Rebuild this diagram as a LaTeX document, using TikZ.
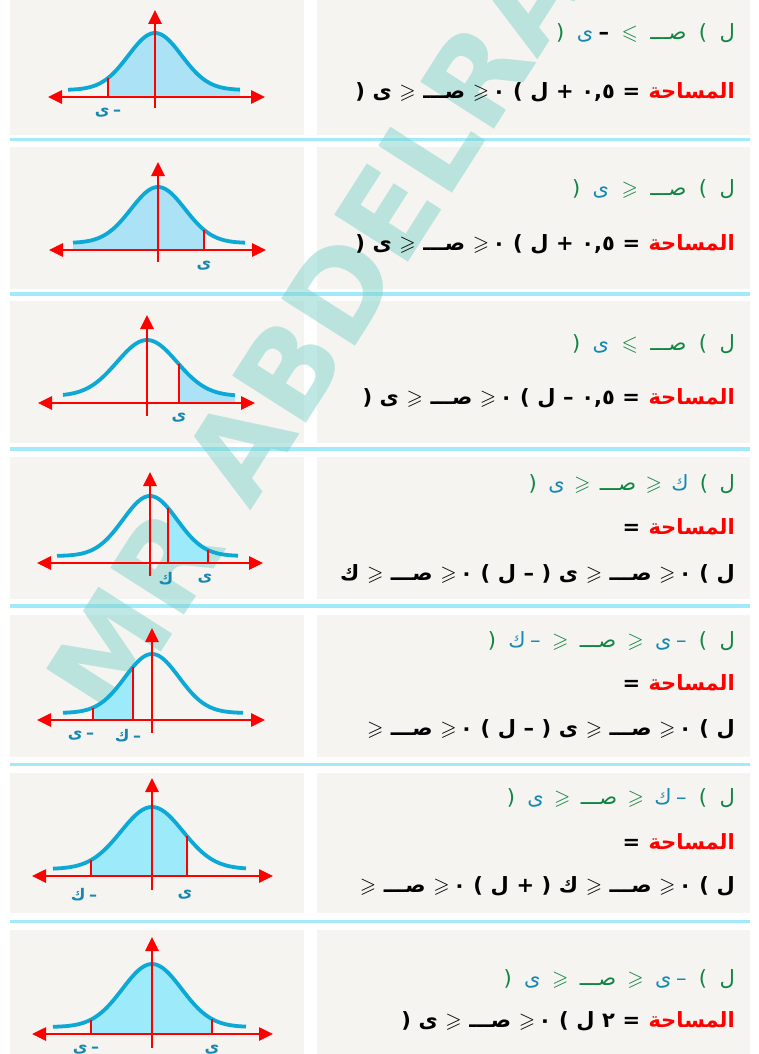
\documentclass[tikz,border=0pt]{standalone}
\usepackage{fontspec}
\usepackage{amssymb}
\setmainfont{DejaVu Sans}
\newfontfamily\arab[Script=Arabic]{DejaVu Sans}
\TeXXeTstate=1
\usetikzlibrary{arrows.meta}
\definecolor{panelc}{RGB}{245,244,240}
\definecolor{sepc}{RGB}{162,233,250}
\definecolor{grn}{RGB}{16,132,66}
\definecolor{tlc}{RGB}{22,136,178}
\definecolor{redt}{RGB}{255,0,0}
\definecolor{curvec}{RGB}{12,168,214}
\definecolor{shA}{RGB}{172,226,245}
\definecolor{shB}{RGB}{156,234,250}
\definecolor{wmc}{RGB}{120,208,200}
\newcommand\LEb{\hbox{$\leqslant$}}
\newcommand\GEb{\hbox{$\geqslant$}}
\newcommand\Zs{صـــ}
\newcommand\widesp{\spaceskip=7.6pt\relax}
\newcommand\tk[5]{\node[tok,text=#1] (#3) at ([xshift=-#2]#4.base west) {#5};}
\newcommand\bellf[1]{(7+\bA*exp(-((#1)*(#1))/(2*\bS*\bS)))}
\newcommand\bellshade[3]{\fill[#1] plot[domain=#2:#3,samples=40] ({\x},{\bellf{\x}}) -- (#3,0) -- (#2,0) -- cycle;}
\newcommand\bellcurve[2]{\draw[bellline] plot[domain=#1:#2,samples=90] ({\x},{\bellf{\x}});}
\newcommand\bellaxes[4]{\draw[redax,tipsboth] (#1,0) -- (#2,0); \draw[redax,tipup] (0,#3) -- (0,#4);}
\newcommand\bellcut[1]{\draw[redax] (#1,0) -- (#1,{\bellf{#1}});}
\def\bA{57}\def\bS{27}
\begin{document}
\begin{tikzpicture}[x=1pt,y=-1pt,
  redax/.style={draw=red,line width=2.6pt},
  tipsboth/.style={{Triangle[length=14pt,width=13pt]}-{Triangle[length=14pt,width=13pt]}},
  tipup/.style={-{Triangle[length=14pt,width=13pt]}},
  bellline/.style={draw=curvec,line width=3.8pt},
  lbl/.style={text=tlc,inner sep=0,font=\arab\bfseries\fontsize{16}{18}\selectfont},
  tok/.style={anchor=base east,inner sep=0,font=\arab\fontsize{21}{24}\selectfont},
  tokb/.style={anchor=base east,inner sep=0,font=\arab\bfseries\fontsize{21}{24}\selectfont\widesp},
  panel/.style={fill=panelc},
  sepline/.style={draw=sepc,line width=3.5pt}]
\useasboundingbox (0,0) rectangle (758,1054);
\fill[white] (0,0) rectangle (758,1054);
% panels
\foreach \ya/\yb in {0/135,147/289,301/443,457/599,615/757,773/913,930/1054}{
  \fill[panel] (10,\ya) rectangle (304,\yb);
  \fill[panel] (317,\ya) rectangle (750,\yb);
}
\foreach \ys in {139.5,294,449,606,764.5,921.5}{
  \draw[sepline] (10,\ys) -- (750,\ys);
}
% watermark
\begin{scope}
\clip (0,0) rectangle (758,1054);
\node[rotate=57.5,text=wmc,text opacity=0.47,inner sep=0,font=\bfseries\fontsize{120}{120}\selectfont] (wm) at (314,330) {MR ABDELRA};
\end{scope}
% graph 1
\begin{scope}[shift={(155,97)},yscale=-1]
\def\bA{57}\def\bS{26.6}
\bellshade{shA}{-47}{85}
\bellcurve{-87}{85}
\bellaxes{-107}{110}{-11}{87}
\bellcut{-47}
\node[lbl] (g1a) at (-47,-16) {\beginR – \hspace{-2pt}ى\endR};
\end{scope}
% graph 2
\begin{scope}[shift={(158,250)},yscale=-1]
\def\bA{56}\def\bS{27}
\bellshade{shA}{-85}{46}
\bellcurve{-85}{87}
\bellaxes{-109}{108}{-12}{88}
\bellcut{46}
\node[lbl] (g2a) at (46,-16) {ى};
\end{scope}
% graph 3
\begin{scope}[shift={(147,403)},yscale=-1]
\def\bA{56}\def\bS{30}
\bellshade{shA}{32}{88}
\bellcurve{-84}{88}
\bellaxes{-109}{108}{-13}{88}
\bellcut{32}
\node[lbl] (g3a) at (32,-15) {ى};
\end{scope}
% graph 4
\begin{scope}[shift={(150,563)},yscale=-1]
\def\bA{60}\def\bS{27}
\bellshade{shB}{18}{58}
\bellcurve{-93}{88}
\bellaxes{-113}{113}{-13}{91}
\bellcut{18}
\bellcut{58}
\node[lbl] (g4a) at (16,-16) {ك};
\node[lbl] (g4b) at (55,-16) {ى};
\end{scope}
% graph 5
\begin{scope}[shift={(152,720)},yscale=-1]
\def\bA{59}\def\bS{27}
\bellshade{shB}{-59}{-19}
\bellcurve{-89}{91}
\bellaxes{-115}{113}{-13}{92}
\bellcut{-59}
\bellcut{-19}
\node[lbl] (g5a) at (-71,-16) {\beginR – \hspace{-2pt}ى\endR};
\node[lbl] (g5b) at (-24,-16) {\beginR – \hspace{-2pt}ك\endR};
\end{scope}
% graph 6
\begin{scope}[shift={(152,876)},yscale=-1]
\def\bA{62}\def\bS{31}
\bellshade{shB}{-61}{35}
\bellcurve{-99}{94}
\bellaxes{-120}{121}{-14}{98}
\bellcut{-61}
\bellcut{35}
\node[lbl] (g6a) at (-68,-19) {\beginR – \hspace{-2pt}ك\endR};
\node[lbl] (g6b) at (33,-19) {ى};
\end{scope}
% graph 7
\begin{scope}[shift={(152,1034)},yscale=-1]
\def\bA{63}\def\bS{29.5}
\bellshade{shB}{-61}{60}
\bellcurve{-99}{94}
\bellaxes{-120}{121}{-14}{97}
\bellcut{-61}
\bellcut{60}
\node[lbl] (g7a) at (-66,-16) {\beginR – \hspace{-2pt}ى\endR};
\node[lbl] (g7b) at (60,-16) {ى};
\end{scope}
% ---------- row 1
\node[tok,text=grn] (a1) at (735,40) {ل};
\tk{grn}{12pt}{a2}{a1}{)}
\tk{grn}{12pt}{a3}{a2}{\Zs}
\tk{grn}{12pt}{a4}{a3}{$\leqslant$}
\tk{black}{12pt}{a5}{a4}{\bfseries –}
\tk{tlc}{5pt}{a6}{a5}{ى}
\tk{grn}{12pt}{a7}{a6}{(}
\node[tokb,text=redt] (b1) at (735,99) {المساحة};
\node[tokb] (b2) at ([xshift=-8pt]b1.base west) {\beginR = ٠,٥ + ل ) ٠\,\GEb{} {\Zs} \GEb{} ى (\endR};
% ---------- row 2
\node[tok,text=grn] (c1) at (735,195) {ل};
\tk{grn}{12pt}{c2}{c1}{)}
\tk{grn}{12pt}{c3}{c2}{\Zs}
\tk{grn}{12pt}{c4}{c3}{$\geqslant$}
\tk{tlc}{12pt}{c5}{c4}{ى}
\tk{grn}{12pt}{c6}{c5}{(}
\node[tokb,text=redt] (d1) at (735,250) {المساحة};
\node[tokb] (d2) at ([xshift=-8pt]d1.base west) {\beginR = ٠,٥ + ل ) ٠\,\GEb{} {\Zs} \GEb{} ى (\endR};
% ---------- row 3
\node[tok,text=grn] (e1) at (735,350) {ل};
\tk{grn}{12pt}{e2}{e1}{)}
\tk{grn}{12pt}{e3}{e2}{\Zs}
\tk{grn}{12pt}{e4}{e3}{$\leqslant$}
\tk{tlc}{12pt}{e5}{e4}{ى}
\tk{grn}{12pt}{e6}{e5}{(}
\node[tokb,text=redt] (f1) at (735,404) {المساحة};
\node[tokb] (f2) at ([xshift=-8pt]f1.base west) {\beginR = ٠,٥ – ل ) ٠\,\GEb{} {\Zs} \GEb{} ى (\endR};
% ---------- row 4
\node[tok,text=grn] (h1) at (735,490) {ل};
\tk{grn}{11pt}{h2}{h1}{)}
\tk{tlc}{11pt}{h3}{h2}{ك}
\tk{grn}{9pt}{h4}{h3}{$\geqslant$}
\tk{grn}{9pt}{h5}{h4}{\Zs}
\tk{grn}{9pt}{h6}{h5}{$\geqslant$}
\tk{tlc}{9pt}{h7}{h6}{ى}
\tk{grn}{11pt}{h8}{h7}{(}
\node[tokb,text=redt] (i1) at (735,534) {المساحة};
\node[tokb] (i2) at ([xshift=-8pt]i1.base west) {=};
\node[tokb] (i3) at (735,580) {\beginR ل ) ٠\,\GEb{} {\Zs} \GEb{} ى ( – ل ) ٠\,\GEb{} {\Zs} \GEb{} ك\endR};
% ---------- row 5
\node[tok,text=grn] (j1) at (735,647) {ل};
\tk{grn}{12pt}{j2}{j1}{)}
\tk{tlc}{12pt}{j3}{j2}{–}
\tk{tlc}{4pt}{j4}{j3}{ى}
\tk{grn}{11pt}{j5}{j4}{$\geqslant$}
\tk{grn}{11pt}{j6}{j5}{\Zs}
\tk{grn}{11pt}{j7}{j6}{$\geqslant$}
\tk{tlc}{11pt}{j8}{j7}{–}
\tk{tlc}{4pt}{j9}{j8}{ك}
\tk{grn}{12pt}{j10}{j9}{(}
\node[tokb,text=redt] (k1) at (735,690) {المساحة};
\node[tokb] (k2) at ([xshift=-8pt]k1.base west) {=};
\node[tokb] (k3) at (735,735) {\beginR ل ) ٠\,\GEb{} {\Zs} \GEb{} ى ( – ل ) ٠\,\GEb{} {\Zs} \GEb\endR};
% ---------- row 6
\node[tok,text=grn] (m1) at (735,804) {ل};
\tk{grn}{12pt}{m2}{m1}{)}
\tk{tlc}{12pt}{m3}{m2}{–}
\tk{tlc}{4pt}{m4}{m3}{ك}
\tk{grn}{10pt}{m5}{m4}{$\geqslant$}
\tk{grn}{10pt}{m6}{m5}{\Zs}
\tk{grn}{10pt}{m7}{m6}{$\geqslant$}
\tk{tlc}{10pt}{m8}{m7}{ى}
\tk{grn}{12pt}{m9}{m8}{(}
\node[tokb,text=redt] (n1) at (735,849) {المساحة};
\node[tokb] (n2) at ([xshift=-8pt]n1.base west) {=};
\node[tokb] (n3) at (735,892) {\beginR ل ) ٠\,\GEb{} {\Zs} \GEb{} ك ( + ل ) ٠\,\GEb{} {\Zs} \GEb\endR};
% ---------- row 7
\node[tok,text=grn] (p1) at (735,985) {ل};
\tk{grn}{12pt}{p2}{p1}{)}
\tk{tlc}{12pt}{p3}{p2}{–}
\tk{tlc}{4pt}{p4}{p3}{ى}
\tk{grn}{11pt}{p5}{p4}{$\geqslant$}
\tk{grn}{11pt}{p6}{p5}{\Zs}
\tk{grn}{11pt}{p7}{p6}{$\geqslant$}
\tk{tlc}{11pt}{p8}{p7}{ى}
\tk{grn}{12pt}{p9}{p8}{(}
\node[tokb,text=redt] (q1) at (735,1027) {المساحة};
\node[tokb] (q2) at ([xshift=-8pt]q1.base west) {\beginR = ٢ ل ) ٠\,\GEb{} {\Zs} \GEb{} ى (\endR};
\end{tikzpicture}
\end{document}
